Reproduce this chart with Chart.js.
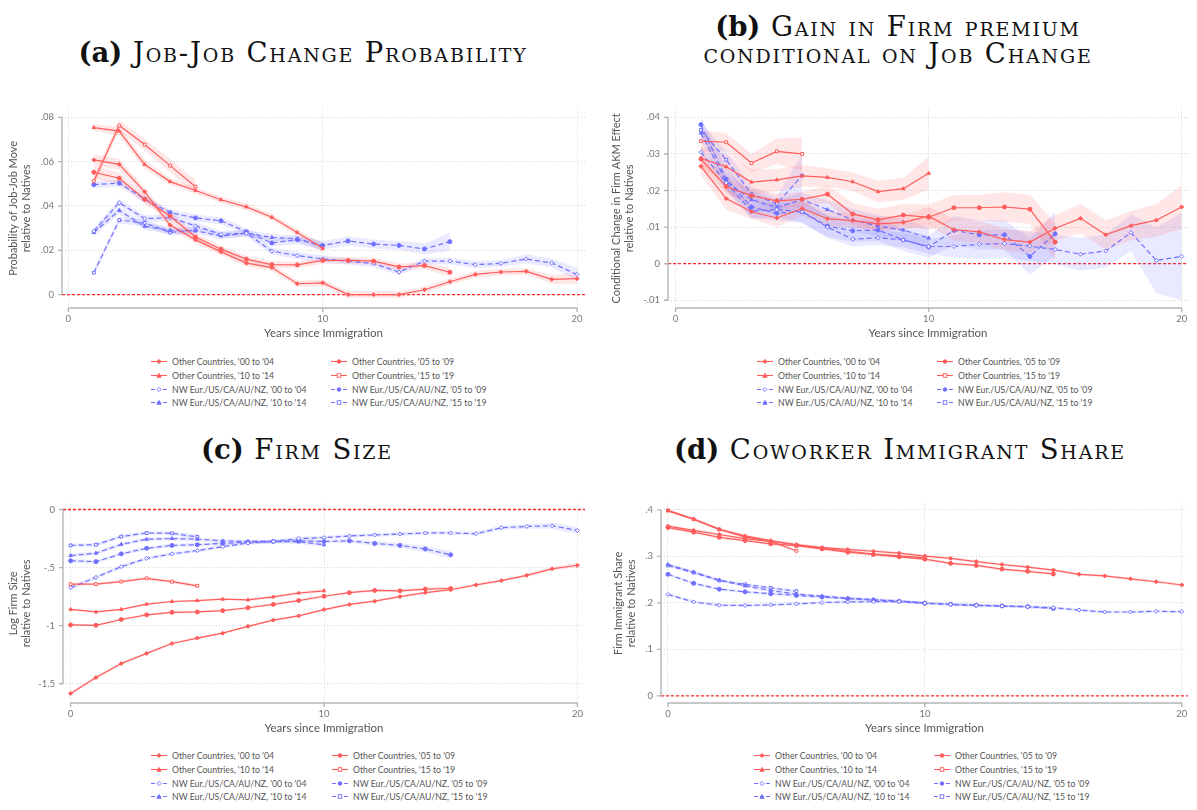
<!DOCTYPE html>
<html>
<head>
<meta charset="utf-8">
<script src="https://cdn.jsdelivr.net/npm/chart.js@4.4.1/dist/chart.umd.min.js"></script>
<style>
  html, body { margin: 0; padding: 0; background: #fff; }
  body { width: 1197px; height: 810px; position: relative; overflow: hidden; font-family: Lato, "Open Sans", sans-serif; }
  .titulo { position: absolute; font-family: "DejaVu Serif", serif; font-size: 27.5px; line-height: 27px; letter-spacing: 1.8px;
            font-variant: small-caps; color: #111; text-align: center; white-space: nowrap; transform: translateX(-50%); }
  .titulo b { font-variant: normal; letter-spacing: 0; }
  .painel { position: absolute; }
  .item { position: absolute; white-space: nowrap; font-size: 8.7px; color: #555; line-height: 12px; }
  .item svg { position: absolute; top: 2px; }
</style>
</head>
<body>

<div class="titulo" style="left:303px; top:39px"><b>(a)</b> Job-Job Change Probability</div>
<div class="titulo" style="left:898px; top:13px"><b>(b)</b> Gain in Firm premium<br>conditional on Job Change</div>
<div class="titulo" style="left:297px; top:436px"><b>(c)</b> Firm Size</div>
<div class="titulo" style="left:900px; top:436px"><b>(d)</b> Coworker Immigrant Share</div>

<div class="painel" style="left:0; top:95px; width:595px; height:250px"><canvas id="grafico-a"></canvas></div>
<div class="painel" style="left:600px; top:95px; width:597px; height:250px"><canvas id="grafico-b"></canvas></div>
<div class="painel" style="left:0; top:490px; width:595px; height:250px"><canvas id="grafico-c"></canvas></div>
<div class="painel" style="left:600px; top:490px; width:597px; height:250px"><canvas id="grafico-d"></canvas></div>

<div id="legendas"></div>

<script>
// anos desde a imigracao
const anosAB = [1,2,3,4,5,6,7,8,9,10,11,12,13,14,15,16,17,18,19,20]
const anosCD = [0,1,2,3,4,5,6,7,8,9,10,11,12,13,14,15,16,17,18,19,20]
const ticksX = [0, 10, 20]

const nomesSeries = [
  "Other Countries, '00 to '04", "Other Countries, '05 to '09",
  "Other Countries, '10 to '14", "Other Countries, '15 to '19",
  "NW Eur./US/CA/AU/NZ, '00 to '04", "NW Eur./US/CA/AU/NZ, '05 to '09",
  "NW Eur./US/CA/AU/NZ, '10 to '14", "NW Eur./US/CA/AU/NZ, '15 to '19"
]

// (a) probabilidade de troca de emprego
const aOther00 = [.0608,.0588,.0464,.0314,.0247,.0193,.0142,.0122,.0049,.0053,0,0,0,.0022,.0058,.0091,.0102,.0105,.0069,.0072]
const aOther05 = [.0552,.0525,.043,.0355,.026,.0205,.016,.0135,.0134,.0154,.0154,.0151,.0125,.0131,.0101]
const aOther10 = [.0754,.0738,.0587,.051,.047,.0428,.0396,.0349,.028,.0209]
const aOther15 = [.0512,.0763,.0677,.0582,.0487]
const aNw00 = [.0287,.0415,.0343,.0347,.031,.0272,.0277,.0196,.0176,.0161,.0151,.014,.0102,.0151,.0151,.0135,.0141,.0161,.0143,.0091]
const aNw05 = [.0496,.0503,.0431,.037,.0346,.0333,.0284,.0233,.0248,.0222,.0242,.0228,.0222,.0206,.0239]
const aNw10 = [.028,.038,.0308,.029,.0288,.0265,.0277,.0258,.0252,.0219]
const aNw15 = [.0099,.0336,.0324,.0281,.029]
const aOther00Ci = [.0025,.0025,.002,.002,.0015,.0015,.0015,.0015,.0015,.0015,.0015,.0015,.0015,.0015,.0015,.0015,.0015,.0015,.002,.0025]
const aOther05Ci = [.003,.0025,.002,.002,.0015,.0015,.0015,.0015,.0015,.0015,.0015,.0015,.0015,.0015,.002]
const aOther10Ci = [.0015,.002,.002,.0015,.0015,.0015,.0015,.0015,.0015,.002]
const aOther15Ci = [.0025,.0025,.0025,.003,.003]
const aNw00Ci = [.0015,.0015,.0015,.0015,.0015,.0015,.0015,.0015,.0015,.0015,.0015,.0015,.0015,.0015,.0015,.0015,.0015,.002,.002,.003]
const aNw05Ci = [.0015,.0015,.0015,.0015,.0015,.0015,.0015,.0015,.002,.002,.002,.002,.002,.0025,.004]
const aNw10Ci = [.0015,.0015,.0015,.0015,.0015,.0015,.0015,.0015,.0015,.002]
const aNw15Ci = [.0015,.0015,.0015,.0015,.0015]
const ticksYA = [0, .02, .04, .06, .08]

// (b) ganho no efeito AKM da firma
const bOther00 = [.0266,.0178,.0142,.0125,.0151,.0123,.0118,.0109,.0113,.013,.0093,.0087,.0066,.0059,.0097,.0124,.0079,.0104,.0119,.0155]
const bOther05 = [.0286,.0211,.0186,.0172,.0176,.019,.0136,.012,.0133,.0127,.0153,.0153,.0155,.0149,.0059]
const bOther10 = [.0288,.0265,.0223,.0229,.024,.0236,.0224,.0197,.0205,.0247]
const bOther15 = [.0335,.0332,.0275,.0307,.030]
const bNw00 = [.0305,.0221,.0144,.0148,.0142,.01,.0067,.0071,.0065,.0047,.0047,.0053,.0055,.0048,.0039,.0026,.0035,.0085,.0009,.002]
const bNw05 = [.038,.0231,.0155,.0138,.0142,.0103,.009,.0092,.0065,.0046,.0091,.0079,.0079,.002,.0082]
const bNw10 = [.0357,.0225,.0175,.0154,.0175,.0148,.012,.0103,.0092,.007]
const bNw15 = [.0365,.0284,.019,.0164,.0241]
const bOther00Ci = [.0025,.003,.002,.0025,.002,.002,.002,.002,.002,.0025,.003,.003,.003,.003,.0035,.004,.004,.004,.0045,.006]
const bOther05Ci = [.002,.002,.002,.002,.002,.0025,.003,.003,.003,.0035,.0035,.0035,.004,.004,.005]
const bOther10Ci = [.003,.0035,.0035,.003,.003,.0025,.0025,.003,.003,.0045]
const bOther15Ci = [.003,.0025,.0025,.0035,.0045]
const bNw00Ci = [.0015,.002,.002,.002,.003,.003,.002,.002,.002,.002,.003,.004,.004,.004,.004,.0045,.0045,.005,.009,.012]
const bNw05Ci = [.002,.003,.003,.002,.003,.003,.003,.003,.003,.003,.004,.004,.004,.005,.006]
const bNw10Ci = [.002,.0025,.0025,.002,.002,.0025,.003,.003,.003,.003]
const bNw15Ci = [.002,.0025,.002,.002,.006]
const ticksYB = [-.01, 0, .01, .02, .03, .04]

// (c) tamanho da firma (log)
const cOther00 = [-1.584,-1.447,-1.326,-1.239,-1.154,-1.107,-1.065,-1.006,-.952,-.916,-.862,-.817,-.789,-.75,-.716,-.691,-.649,-.612,-.567,-.511,-.48]
const cOther05 = [-.994,-.997,-.947,-.907,-.885,-.882,-.871,-.846,-.817,-.784,-.747,-.716,-.697,-.70,-.685,-.68]
const cOther10 = [-.86,-.882,-.86,-.815,-.792,-.784,-.772,-.778,-.753,-.719,-.70]
const cOther15 = [-.643,-.643,-.621,-.593,-.621,-.657]
const cNw00 = [-.674,-.584,-.492,-.421,-.382,-.354,-.32,-.289,-.275,-.25,-.242,-.228,-.219,-.211,-.202,-.202,-.208,-.157,-.146,-.14,-.18]
const cNw05 = [-.441,-.449,-.382,-.334,-.309,-.303,-.292,-.281,-.275,-.27,-.275,-.27,-.292,-.309,-.34,-.39]
const cNw10 = [-.396,-.376,-.30,-.256,-.25,-.256,-.27,-.275,-.275,-.278,-.303]
const cNw15 = [-.309,-.303,-.233,-.202,-.205,-.236]
const cOther00Ci = [.015,.015,.012,.012,.01,.01,.01,.01,.01,.01,.01,.01,.01,.01,.01,.012,.012,.012,.015,.015,.02]
const cOther05Ci = [.01,.01,.01,.01,.01,.01,.01,.01,.01,.01,.01,.01,.012,.012,.015,.015]
const cOther10Ci = [.01,.01,.01,.01,.01,.01,.01,.01,.012,.012,.015]
const cOther15Ci = [.012,.012,.012,.015,.015,.015]
const cNw00Ci = [.02,.015,.015,.015,.015,.015,.015,.015,.015,.015,.015,.015,.015,.015,.015,.015,.015,.02,.02,.025,.03]
const cNw05Ci = [.015,.015,.015,.015,.015,.015,.015,.015,.015,.015,.015,.015,.02,.02,.025,.03]
const cNw10Ci = [.015,.015,.015,.015,.015,.015,.015,.015,.015,.02,.02]
const cNw15Ci = [.015,.015,.015,.015,.015,.02]
const ticksYC = [-1.5, -1, -.5, 0]

// (d) participacao de imigrantes entre colegas
const dOther00 = [.365,.356,.347,.338,.332,.325,.319,.315,.311,.307,.3007,.2958,.2888,.2825,.2769,.2706,.2615,.258,.2517,.2455,.2385]
const dOther05 = [.362,.352,.341,.334,.327,.323,.316,.309,.304,.299,.294,.285,.2805,.2727,.2678,.2622]
const dOther10 = [.398,.380,.358,.344,.334,.325,.318,.311,.305,.301,.297]
const dOther15 = [.399,.380,.358,.342,.332,.312]
const dNw00 = [.2182,.202,.195,.1944,.1958,.1979,.2007,.2021,.2025,.2028,.1993,.1965,.1944,.193,.1916,.1895,.1846,.1804,.1804,.1818,.1811]
const dNw05 = [.2615,.242,.2294,.2238,.2196,.2161,.2126,.2091,.2063,.2035,.1993,.197,.195,.1935,.192,.188]
const dNw10 = [.2825,.2664,.249,.2364,.2266,.219,.2147,.21,.207,.204,.200]
const dNw15 = [.2804,.265,.248,.2399,.2322,.2252]
const dOther00Ci = [.003,.003,.003,.003,.003,.003,.003,.003,.003,.003,.003,.003,.003,.003,.003,.003,.003,.003,.003,.003,.003]
const dOther05Ci = [.003,.003,.003,.003,.003,.003,.003,.003,.003,.003,.003,.003,.003,.003,.003,.003]
const dOther10Ci = [.003,.003,.003,.003,.003,.003,.003,.003,.003,.003,.003]
const dOther15Ci = [.003,.003,.003,.003,.003,.003]
const dNw00Ci = [.003,.003,.003,.003,.003,.003,.003,.003,.003,.003,.003,.003,.003,.003,.003,.003,.003,.003,.003,.003,.003]
const dNw05Ci = [.003,.003,.003,.003,.003,.003,.003,.003,.003,.003,.003,.003,.003,.003,.003,.003]
const dNw10Ci = [.003,.003,.003,.003,.003,.003,.003,.003,.003,.003,.003]
const dNw15Ci = [.003,.003,.003,.003,.003,.003]
const ticksYD = [0, .1, .2, .3, .4]

const VERMELHO = '#ff5c5c'
const AZUL = '#7070ff'
const FAIXA_VERMELHA = 'rgba(255,110,110,0.17)'
const FAIXA_AZUL = 'rgba(110,110,255,0.15)'
const marcadores = ['rectRot', 'circle', 'triangle', 'rect']
const ocos = [false, false, false, true, true, false, false, true]

function formataY(v) {
  if (v === 0) return '0'
  const s = String(Math.abs(+v.toFixed(4))).replace(/^0/, '')
  return (v < 0 ? '-' : '') + s
}

function serie(anos, valores, ic, k) {
  const azul = k >= 4
  const cor = azul ? AZUL : VERMELHO
  return [
    {data: valores.map((v, i) => ({x: anos[i], y: v - ic[i]})), borderWidth: 0, pointRadius: 0, fill: false, order: 3},
    {data: valores.map((v, i) => ({x: anos[i], y: v + ic[i]})), borderWidth: 0, pointRadius: 0, fill: '-1',
     backgroundColor: azul ? FAIXA_AZUL : FAIXA_VERMELHA, order: 3},
    {data: valores.map((v, i) => ({x: anos[i], y: v})), borderColor: cor, borderWidth: 1.2,
     borderDash: azul ? [5, 3] : [], pointStyle: marcadores[k % 4], pointRadius: 2,
     pointBackgroundColor: ocos[k] ? '#fff' : cor, pointBorderColor: cor, pointBorderWidth: 1,
     fill: false, tension: 0, order: 1}
  ]
}

// linhas de eixo no estilo Stata e linha vermelha no zero
const eixos = {
  id: 'eixos',
  beforeDatasetsDraw(chart) {
    const {ctx, chartArea} = chart
    const y0 = chart.scales.y.getPixelForValue(0)
    ctx.save()
    ctx.strokeStyle = '#ff2a2a'
    ctx.lineWidth = 1.3
    ctx.setLineDash([3, 2])
    ctx.beginPath()
    ctx.moveTo(chartArea.left, y0)
    ctx.lineTo(chartArea.right, y0)
    ctx.stroke()
    ctx.restore()
  },
  afterDraw(chart) {
    const {ctx, chartArea} = chart
    const sx = chart.scales.x, sy = chart.scales.y
    const vy = sy.ticks.map(t => t.value), vx = sx.ticks.map(t => t.value)
    ctx.save()
    ctx.strokeStyle = '#b5b5b5'
    ctx.lineWidth = 1.4
    ctx.beginPath()
    const xl = chartArea.left
    ctx.moveTo(xl, sy.getPixelForValue(Math.max(...vy)))
    ctx.lineTo(xl, sy.getPixelForValue(Math.min(...vy)))
    vy.forEach(v => { const p = sy.getPixelForValue(v); ctx.moveTo(xl - 4, p); ctx.lineTo(xl, p) })
    const yb = chartArea.bottom
    ctx.moveTo(sx.getPixelForValue(Math.min(...vx)), yb)
    ctx.lineTo(sx.getPixelForValue(Math.max(...vx)), yb)
    vx.forEach(v => { const p = sx.getPixelForValue(v); ctx.moveTo(p, yb); ctx.lineTo(p, yb + 4) })
    ctx.stroke()
    ctx.restore()
  }
}

function painel(id, c) {
  const datasets = []
  c.series.forEach((s, k) => datasets.push(...serie(c.anos, s[0], s[1], k)))
  new Chart(document.getElementById(id), {
    type: 'line',
    data: {datasets},
    options: {
      responsive: true,
      maintainAspectRatio: false,
      animation: false,
      layout: {padding: {top: c.topo, right: c.direita, left: 0, bottom: 0}},
      plugins: {legend: {display: false}, tooltip: {enabled: false}},
      scales: {
        x: {
          type: 'linear', min: c.xMin, max: c.xMax,
          afterBuildTicks: s => { s.ticks = ticksX.map(v => ({value: v})) },
          afterFit: s => { s.height = 37 },
          ticks: {color: '#777', font: {family: 'Lato', size: 9.5}, padding: 5, maxRotation: 0},
          grid: {color: '#d4d4d4', lineWidth: 1, drawTicks: false},
          border: {display: false, dash: [1, 2]},
          title: {display: true, text: 'Years since Immigration', color: '#555',
                  font: {family: 'Lato', size: 11.5, lineHeight: 1.15}, padding: {top: 0, bottom: 5}}
        },
        y: {
          type: 'linear', min: c.yMin, max: c.yMax,
          afterBuildTicks: s => { s.ticks = c.ticksY.map(v => ({value: v})) },
          afterFit: s => { s.width = c.larguraY },
          ticks: {color: '#777', font: {family: 'Lato', size: 9.5}, padding: 8, callback: v => formataY(v)},
          grid: {color: '#d4d4d4', lineWidth: 1, drawTicks: false},
          border: {display: false, dash: [1, 2]},
          title: {display: true, text: c.tituloY, color: '#555',
                  font: {family: 'Lato', size: 11, lineHeight: 1.15}, padding: {top: c.recuoTitulo, bottom: 0}}
        }
      }
    },
    plugins: [eixos]
  })
}

painel('grafico-a', {
  anos: anosAB, ticksY: ticksYA, xMin: -0.25, xMax: 20.31, yMin: -0.00605, yMax: 0.0839,
  topo: 5, direita: 10, larguraY: 62, recuoTitulo: 7.5,
  tituloY: ['Probability of Job-Job Move', 'relative to Natives'],
  series: [[aOther00, aOther00Ci], [aOther05, aOther05Ci], [aOther10, aOther10Ci], [aOther15, aOther15Ci],
           [aNw00, aNw00Ci], [aNw05, aNw05Ci], [aNw10, aNw10Ci], [aNw15, aNw15Ci]]
})

painel('grafico-b', {
  anos: anosAB, ticksY: ticksYB, xMin: -0.30, xMax: 20.25, yMin: -0.0121, yMax: 0.04236,
  topo: 5, direita: 9, larguraY: 68, recuoTitulo: 10.5,
  tituloY: ['Conditional Change in Firm AKM Effect', 'relative to Natives'],
  series: [[bOther00, bOther00Ci], [bOther05, bOther05Ci], [bOther10, bOther10Ci], [bOther15, bOther15Ci],
           [bNw00, bNw00Ci], [bNw05, bNw05Ci], [bNw10, bNw10Ci], [bNw15, bNw15Ci]]
})

painel('grafico-c', {
  anos: anosCD, ticksY: ticksYC, xMin: -0.30, xMax: 20.3, yMin: -1.666, yMax: 0.05,
  topo: 8, direita: 10, larguraY: 63, recuoTitulo: 7.5,
  tituloY: ['Log Firm Size', 'relative to Natives'],
  series: [[cOther00, cOther00Ci], [cOther05, cOther05Ci], [cOther10, cOther10Ci], [cOther15, cOther15Ci],
           [cNw00, cNw00Ci], [cNw05, cNw05Ci], [cNw10, cNw10Ci], [cNw15, cNw15Ci]]
})

painel('grafico-d', {
  anos: anosCD, ticksY: ticksYD, xMin: -0.27, xMax: 20.24, yMin: -0.0153, yMax: 0.4133,
  topo: 8, direita: 9, larguraY: 61, recuoTitulo: 12,
  tituloY: ['Firm Immigrant Share', 'relative to Natives'],
  series: [[dOther00, dOther00Ci], [dOther05, dOther05Ci], [dOther10, dOther10Ci], [dOther15, dOther15Ci],
           [dNw00, dNw00Ci], [dNw05, dNw05Ci], [dNw10, dNw10Ci], [dNw15, dNw15Ci]]
})

// legendas em duas colunas, montadas em HTML
function simbolo(k) {
  const azul = k >= 4
  const cor = azul ? AZUL : VERMELHO
  const fundo = ocos[k] ? '#fff' : cor
  const tipo = marcadores[k % 4]
  let m = ''
  if (tipo === 'rectRot') m = `<polygon points="8,1.4 10.1,3.5 8,5.6 5.9,3.5" fill="${fundo}" stroke="${cor}" stroke-width="0.9"/>`
  if (tipo === 'circle') m = `<circle cx="8" cy="3.5" r="1.8" fill="${fundo}" stroke="${cor}" stroke-width="0.9"/>`
  if (tipo === 'triangle') m = `<polygon points="8,1.4 10.1,5.3 5.9,5.3" fill="${fundo}" stroke="${cor}" stroke-width="0.9"/>`
  if (tipo === 'rect') m = `<rect x="6.2" y="1.7" width="3.6" height="3.6" fill="${fundo}" stroke="${cor}" stroke-width="0.9"/>`
  const traco = azul ? 'stroke-dasharray="4,2"' : ''
  return `<svg width="16" height="7"><line x1="0" y1="3.5" x2="16" y2="3.5" stroke="${cor}" stroke-width="1.1" ${traco}/>${m}</svg>`
}

const posLegendas = [
  {cols: [172, 352], topo: 356},
  {cols: [778, 958], topo: 356},
  {cols: [172, 353], topo: 750},
  {cols: [775, 955], topo: 750}
]
const caixa = document.getElementById('legendas')
posLegendas.forEach(p => {
  nomesSeries.forEach((nome, k) => {
    const el = document.createElement('div')
    el.className = 'item'
    el.style.left = (p.cols[k % 2] - 21) + 'px'
    el.style.top = (p.topo + Math.floor(k / 2) * 13.8) + 'px'
    el.innerHTML = simbolo(k) + `<span style="margin-left:21px">${nome}</span>`
    caixa.appendChild(el)
  })
})
</script>
</body>
</html>
